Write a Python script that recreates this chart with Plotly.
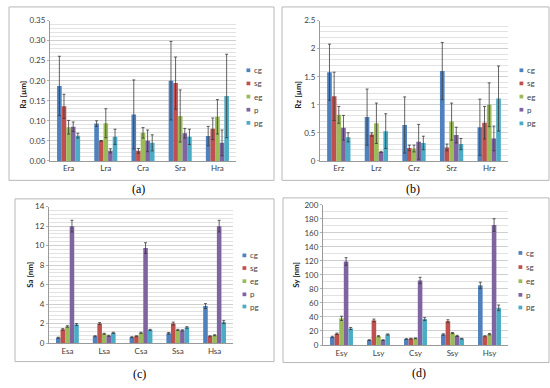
import plotly.graph_objects as go

W, H = 550, 388

series = ["cg", "sg", "eg", "p", "pg"]
colors = ["#4F81BD", "#C0504D", "#9BBB59", "#8064A2", "#4BACC6"]

cat_ra = ["Era", "Lra", "Cra", "Sra", "Hra"]
cat_rz = ["Erz", "Lrz", "Crz", "Srz", "Hrz"]
cat_sa = ["Esa", "Lsa", "Csa", "Ssa", "Hsa"]
cat_sy = ["Esy", "Lsy", "Csy", "Ssy", "Hsy"]

# rows follow `series`, columns follow the categories
ra_mean = [
    [0.187, 0.093, 0.116, 0.200, 0.062],
    [0.136, 0.050, 0.025, 0.194, 0.080],
    [0.084, 0.094, 0.070, 0.112, 0.110],
    [0.085, 0.025, 0.050, 0.069, 0.045],
    [0.063, 0.060, 0.045, 0.060, 0.162],
]
ra_err = [
    [0.074, 0.007, 0.086, 0.098, 0.024],
    [0.030, 0.001, 0.006, 0.065, 0.027],
    [0.017, 0.036, 0.013, 0.065, 0.043],
    [0.012, 0.005, 0.027, 0.012, 0.032],
    [0.006, 0.019, 0.020, 0.019, 0.104],
]
rz_mean = [
    [1.58, 0.78, 0.64, 1.60, 0.60],
    [1.15, 0.47, 0.23, 0.24, 0.68],
    [0.82, 0.67, 0.22, 0.70, 1.00],
    [0.59, 0.16, 0.34, 0.46, 0.40],
    [0.42, 0.53, 0.32, 0.30, 1.11],
]
rz_err = [
    [0.50, 0.50, 0.50, 0.51, 0.50],
    [0.43, 0.03, 0.05, 0.06, 0.29],
    [0.15, 0.36, 0.06, 0.33, 0.39],
    [0.22, 0.01, 0.31, 0.14, 0.22],
    [0.08, 0.31, 0.12, 0.10, 0.58],
]
sa_mean = [
    [0.55, 0.70, 0.60, 1.00, 3.80],
    [1.40, 2.00, 0.70, 2.00, 0.70],
    [1.70, 0.95, 1.05, 1.35, 0.80],
    [12.0, 0.75, 9.75, 1.30, 12.0],
    [1.90, 1.05, 1.35, 1.60, 2.15],
]
sa_err = [
    [0.05, 0.05, 0.05, 0.08, 0.25],
    [0.08, 0.10, 0.05, 0.15, 0.05],
    [0.08, 0.05, 0.06, 0.06, 0.05],
    [0.60, 0.05, 0.55, 0.06, 0.60],
    [0.10, 0.06, 0.06, 0.08, 0.15],
]
sy_mean = [
    [11.5, 7, 8.5, 15, 85],
    [16, 35, 9, 34, 12.5],
    [38, 12.5, 9.5, 17, 15.5],
    [119, 7, 92, 13, 171],
    [23.5, 15, 37, 9, 53],
]
sy_err = [
    [1, 0.5, 0.5, 1, 4.5],
    [1, 2, 0.5, 2, 0.8],
    [3, 0.8, 0.5, 0.8, 1],
    [5.5, 0.5, 4.5, 0.8, 9],
    [1.5, 0.8, 2, 0.5, 4],
]

y_titles = ["Ra [µm]", "Rz [µm]", "Sa [nm]", "Sy [nm]"]
panel_labels = ["(a)", "(b)", "(c)", "(d)"]

def px(x):
    return x / W

def py(y):
    return 1 - y / H

# layout specs per panel (pixel positions)
panels = [
    dict(cats=cat_ra, mean=ra_mean, err=ra_err, rng=[0, 0.35], dtick=0.05, minor=0.01, fmt=".2f",
         plot=(50, 236, 16, 160), frame=(9, 274, 2, 180), ytitle=(23, 92),
         leg_x=246.5, leg_y=[67, 80.5, 94, 107.5, 121], label=(138, 189)),
    dict(cats=cat_rz, mean=rz_mean, err=rz_err, rng=[0, 2.5], dtick=0.5, minor=0.1, fmt="",
         plot=(320, 508, 16, 160), frame=(282, 549, 2, 180), ytitle=(298, 92),
         leg_x=519.5, leg_y=[67, 80.5, 94, 107.5, 121.5], label=(413, 189)),
    dict(cats=cat_sa, mean=sa_mean, err=sa_err, rng=[0, 14], dtick=2, minor=0.4, fmt="",
         plot=(49, 233, 207, 347), frame=(15, 274, 199, 366), ytitle=(30, 277),
         leg_x=242.5, leg_y=[257, 270, 283.5, 297, 309.5], label=(139, 379)),
    dict(cats=cat_sy, mean=sy_mean, err=sy_err, rng=[0, 200], dtick=20, minor=10, fmt="",
         plot=(323, 508, 205, 349), frame=(283, 549, 198, 367), ytitle=(296, 277),
         leg_x=518.5, leg_y=[254.5, 269, 283.5, 297.5, 310.5], label=(419, 378)),
]

fig = go.Figure()
shapes = []
annotations = []
layout_axes = {}
tick_font = dict(family="Lato, Liberation Sans, sans-serif", size=8, color="#404040")

for i, p in enumerate(panels):
    n = "" if i == 0 else str(i + 1)
    xa, ya = "x" + n, "y" + n
    for s, name in enumerate(series):
        fig.add_trace(go.Bar(
            x=p["cats"], y=p["mean"][s], name=name, xaxis=xa, yaxis=ya,
            marker=dict(color=colors[s], line=dict(width=0)),
            error_y=dict(type="data", array=p["err"][s], visible=True,
                         color="#3a3a3a", thickness=0.8, width=1.5),
            showlegend=False,
        ))
    x0, x1, y0, y1 = p["plot"]
    layout_axes["xaxis" + n] = dict(
        domain=[px(x0), px(x1)], anchor=ya, type="category",
        showline=True, linecolor="#9a9a9a", linewidth=1,
        ticks="", tickfont=tick_font, showgrid=False, fixedrange=True,
    )
    layout_axes["yaxis" + n] = dict(
        domain=[py(y1), py(y0)], anchor=xa, range=p["rng"], dtick=p["dtick"],
        tickformat=p["fmt"], showline=True, linecolor="#9a9a9a", linewidth=1,
        ticks="outside", ticklen=2, tickcolor="#b0b0b0",
        showgrid=True, gridcolor="#cfcfcf", gridwidth=1,
        minor=dict(dtick=p["minor"], showgrid=True, gridcolor="#e2e2e2", gridwidth=1),
        zeroline=False, tickfont=tick_font, fixedrange=True,
    )
    fx0, fx1, fy0, fy1 = p["frame"]
    shapes.append(dict(type="rect", xref="paper", yref="paper",
                       x0=px(fx0), x1=px(fx1), y0=py(fy1), y1=py(fy0),
                       line=dict(color="#b8b8b8", width=1), layer="below"))
    tx, ty = p["ytitle"]
    annotations.append(dict(text="<b>" + y_titles[i] + "</b>", x=px(tx), y=py(ty),
                            xref="paper", yref="paper", xanchor="center", yanchor="middle",
                            showarrow=False, textangle=-90,
                            font=dict(family="Lato, Liberation Sans, sans-serif", size=8, color="#202020")))
    lx, ly = p["label"]
    annotations.append(dict(text=panel_labels[i], x=px(lx), y=py(ly),
                            xref="paper", yref="paper", xanchor="center", yanchor="middle",
                            showarrow=False,
                            font=dict(family="Liberation Serif, DejaVu Serif, serif", size=12, color="#000000")))
    # legend drawn per panel
    for s, name in enumerate(series):
        yy = p["leg_y"][s]
        shapes.append(dict(type="rect", xref="paper", yref="paper",
                           x0=px(p["leg_x"]), x1=px(p["leg_x"] + 3.8),
                           y0=py(yy + 1.9), y1=py(yy - 1.9),
                           fillcolor=colors[s], line=dict(width=0)))
        annotations.append(dict(text=name, x=px(p["leg_x"] + 5.5), y=py(yy),
                                xref="paper", yref="paper", xanchor="left", yanchor="middle",
                                showarrow=False,
                                font=dict(family="Lato, Liberation Sans, sans-serif", size=8, color="#404040")))

fig.update_layout(
    width=W, height=H, margin=dict(l=0, r=0, t=0, b=0),
    paper_bgcolor="white", plot_bgcolor="white",
    barmode="group", bargap=0.38, bargroupgap=0,
    showlegend=False, shapes=shapes, annotations=annotations,
    **layout_axes,
)

fig.write_html("out.html", config={"displayModeBar": False},
               post_script="document.body.style.margin='0';document.body.style.overflow='hidden';")
